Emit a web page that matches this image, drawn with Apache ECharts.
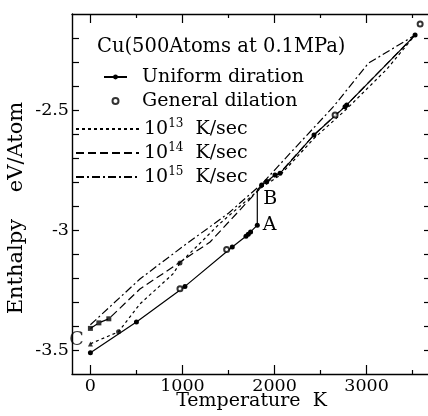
<!DOCTYPE html>
<html>
<head>
<meta charset="utf-8">
<script src="https://cdn.jsdelivr.net/npm/echarts@6/dist/echarts.min.js"></script>
<style>html,body{margin:0;padding:0;background:#fff}#c{width:428px;height:416px}</style>
</head>
<body>
<div id="c"></div>
<script>
// ---- data ----
const uniformT = [0, 500, 1027, 1541, 1690, 1715, 1740, 1813, 1813, 1860, 1915, 2005, 2060, 2429, 2766, 2785, 3527];
const uniformH = [-3.511, -3.383, -3.235, -3.071, -3.026, -3.018, -3.008, -2.980, -2.833, -2.812, -2.798, -2.771, -2.764, -2.604, -2.486, -2.479, -2.188];
const generalT = [973, 1480, 2658, 3582];
const generalH = [-3.245, -3.081, -2.521, -2.142];
const rate13T = [0, 306, 538, 897, 973, 1400, 1870, 2060, 2430, 2780, 3220, 3527];
const rate13H = [-3.474, -3.424, -3.308, -3.183, -3.138, -2.975, -2.820, -2.772, -2.618, -2.497, -2.330, -2.188];
const rate14T = [0, 92, 200, 538, 1300, 1870, 2060, 2430, 2785, 3527];
const rate14H = [-3.41, -3.387, -3.37, -3.246, -3.05, -2.815, -2.762, -2.603, -2.478, -2.188];
const rate15T = [0, 538, 1000, 1500, 1870, 2170, 2640, 3020, 3527];
const rate15H = [-3.395, -3.204, -3.07, -2.93, -2.805, -2.68, -2.486, -2.305, -2.188];
const endT = [0, 92, 200, 306, 973, 0];
const endH = [-3.41, -3.387, -3.37, -3.424, -3.138, -3.475];
const xTickLabels = [0, 1000, 2000, 3000];
const xMinorTicks = [500, 1500, 2500, 3500];
const yTickLabels = [-3.5, -3, -2.5];
const yTicks = [-3.5, -3.4, -3.3, -3.2, -3.1, -3.0, -2.9, -2.8, -2.7, -2.6, -2.5, -2.4, -2.3, -2.2];
const rateExp = ['13', '14', '15'];
const rateNames = rateExp.map(e => '10^' + e + ' K/sec');
const titleText = 'Cu(500Atoms at 0.1MPa)';
const uniformName = 'Uniform diration';
const generalName = 'General dilation';

// ---- styling ----
const FF = 'DejaVu Serif';
const FS = 19;
const FT = 17.5;
const K = '#000';
const zip = (a, b) => a.map((v, i) => [v, b[i]]);

const axisCommon = {type: 'value', min: -200, max: 3700, splitLine: {show: false}};
const yCommon = {type: 'value', min: -3.6, max: -2.1, splitLine: {show: false}};
const lineAx = {onZero: false, lineStyle: {color: K, width: 1.4}};
const noLine = {show: false, onZero: false};

const uniformData = zip(uniformT, uniformH).map((p, i) => {
  const d = {value: p};
  if (i === 7) d.label = {show: true, formatter: 'A', position: 'right', distance: 3};
  if (i === 8) d.symbol = 'none';
  if (i === 9) d.label = {show: true, formatter: 'B', position: 'right', distance: 0, offset: [-1, 14]};
  return d;
});
const endSymbols = ['rect', 'rect', 'rect', 'circle', 'circle', 'triangle'];
const endData = zip(endT, endH).map((p, i) => {
  const d = {value: p, symbol: endSymbols[i]};
  if (i === 5) d.label = {show: true, formatter: 'C', position: 'left', distance: 4, offset: [0, -4]};
  return d;
});

const chart = echarts.init(document.getElementById('c'));
chart.setOption({
  animation: false,
  backgroundColor: '#fff',
  textStyle: {fontFamily: FF, color: K},
  title: {text: titleText, left: 97, top: 37, padding: 0,
    textStyle: {fontFamily: FF, fontSize: 19.5, fontWeight: 'normal', color: K}},
  grid: {left: 72, right: -3, top: 14, bottom: 42, containLabel: false, outerBoundsMode: 'none'},
  legend: [
    {orient: 'vertical', left: 103, top: 66, itemWidth: 23, itemHeight: 6, itemGap: 2, padding: 0,
      data: [uniformName, generalName],
      textStyle: {fontFamily: FF, fontSize: FS, color: K, lineHeight: 22, padding: [0, 0, 0, 10]}},
    {orient: 'vertical', left: 75, top: 118, itemWidth: 63, itemHeight: 6, itemGap: 2, padding: 0,
      data: rateNames, itemStyle: {opacity: 0},
      formatter: name => '{n|10}{s|' + rateExp[rateNames.indexOf(name)] + '}{n|  K/sec}',
      textStyle: {fontFamily: FF, fontSize: FS, color: K, lineHeight: 22,
        rich: {n: {fontFamily: FF, fontSize: FS, color: K, lineHeight: 22},
               s: {fontFamily: FF, fontSize: 12, color: K, lineHeight: 13, verticalAlign: 'top'}}}}
  ],
  xAxis: [
    Object.assign({}, axisCommon, {position: 'bottom', axisLine: lineAx,
      axisTick: {inside: true, length: 9, customValues: xTickLabels, lineStyle: {color: K, width: 1.2}},
      axisLabel: {customValues: xTickLabels, formatter: v => String(v), fontFamily: FF, fontSize: FT, color: K, margin: 3},
      name: 'Temperature  K', nameLocation: 'middle', nameGap: 18, nameMoveOverlap: false,
      nameTextStyle: {fontFamily: FF, fontSize: FS, color: K}}),
    Object.assign({}, axisCommon, {position: 'bottom', axisLine: noLine,
      axisTick: {inside: true, length: 4, customValues: xMinorTicks, lineStyle: {color: K, width: 1.2}},
      axisLabel: {show: false}}),
    Object.assign({}, axisCommon, {position: 'top', axisLine: lineAx,
      axisTick: {inside: true, length: 9, customValues: xTickLabels, lineStyle: {color: K, width: 1.2}},
      axisLabel: {show: false}}),
    Object.assign({}, axisCommon, {position: 'top', axisLine: noLine,
      axisTick: {inside: true, length: 4, customValues: xMinorTicks, lineStyle: {color: K, width: 1.2}},
      axisLabel: {show: false}})
  ],
  yAxis: [
    Object.assign({}, yCommon, {position: 'left', axisLine: lineAx,
      axisTick: {inside: true, length: 7, customValues: yTicks, lineStyle: {color: K, width: 1.2}},
      axisLabel: {customValues: yTickLabels, formatter: v => String(v), fontFamily: FF, fontSize: FT, color: K, margin: 3},
      name: 'Enthalpy    eV/Atom', nameLocation: 'middle', nameGap: 45, nameMoveOverlap: false,
      nameTextStyle: {fontFamily: FF, fontSize: 21, color: K, padding: [0, 28, 0, 0]}}),
    Object.assign({}, yCommon, {position: 'right', axisLine: lineAx,
      axisTick: {inside: true, length: 7, customValues: yTicks, lineStyle: {color: K, width: 1.2}},
      axisLabel: {show: false}})
  ],
  series: [
    {name: rateNames[2], type: 'line', data: zip(rate15T, rate15H), symbol: 'none', color: K,
      lineStyle: {color: K, width: 1.2, type: [8, 3, 2, 3]}, z: 2},
    {name: rateNames[1], type: 'line', data: zip(rate14T, rate14H), symbol: 'none', color: K,
      lineStyle: {color: K, width: 1.2, type: [8, 4]}, z: 2},
    {name: rateNames[0], type: 'line', data: zip(rate13T, rate13H), symbol: 'none', color: K,
      lineStyle: {color: K, width: 1.2, type: [3, 3]}, z: 2},
    {name: uniformName, type: 'line', data: uniformData, symbol: 'circle', symbolSize: 5, color: K,
      itemStyle: {color: K}, lineStyle: {color: K, width: 1.2}, z: 4,
      label: {fontFamily: FF, fontSize: FS, color: K}},
    {name: generalName, type: 'scatter', data: zip(generalT, generalH), symbol: 'emptyCircle', symbolSize: 5,
      color: K, itemStyle: {color: K, borderWidth: 1}, z: 5},
    {name: 'ends', type: 'scatter', data: endData, symbolSize: 5, itemStyle: {color: K}, z: 5,
      label: {fontFamily: FF, fontSize: FS, color: K}}
  ]
});
</script>
</body>
</html>
